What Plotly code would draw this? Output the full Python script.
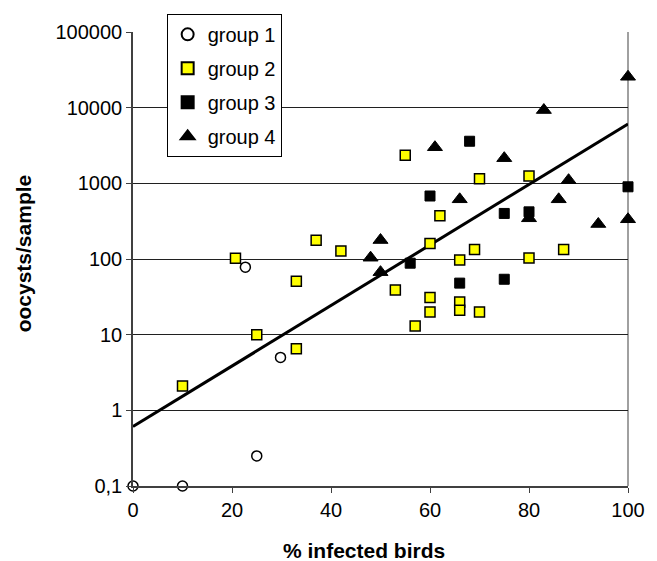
import plotly.graph_objects as go

# % infected birds (x) and oocysts per sample (y) for each group
g1_x = [0, 10, 22.7, 25, 29.8]
g1_y = [0.1, 0.1, 78, 0.25, 5]

g2_x = [10, 20.7, 25, 33, 33, 37, 42, 53, 55, 57, 60, 60, 60, 62, 66, 66, 66,
        69, 70, 70, 80, 80, 87]
g2_y = [2.1, 102, 10, 51, 6.5, 177, 128, 39, 2350, 13, 160, 31, 20, 373, 97, 27, 21,
        134, 1150, 20, 1250, 103, 134]

g3_x = [56, 60, 66, 68, 75, 75, 80, 100]
g3_y = [88, 680, 48, 3600, 400, 54, 420, 900]

g4_x = [48, 50, 50, 61, 66, 75, 80, 83, 86, 88, 94, 100, 100]
g4_y = [104, 178, 67, 3000, 615, 2150, 345, 9300, 615, 1100, 290, 25600, 335]

# exponential trend line endpoints
trend_x = [0, 100]
trend_y = [0.61, 6100]

y_ticks = [0.1, 1, 10, 100, 1000, 10000, 100000]
y_ticktext = ["0,1", "1", "10", "100", "1000", "10000", "100000"]
x_ticks = [0, 20, 40, 60, 80, 100]

FONT = "Liberation Sans, Arial, sans-serif"

fig = go.Figure()

fig.add_trace(go.Scatter(
    x=trend_x, y=trend_y, mode="lines", showlegend=False,
    line=dict(color="black", width=3), hoverinfo="skip"))

fig.add_trace(go.Scatter(
    x=g1_x, y=g1_y, mode="markers", name="group 1", legendgroup="g1",
    marker=dict(symbol="circle", size=10, color="white",
                line=dict(color="black", width=1.5)), cliponaxis=False))
fig.add_trace(go.Scatter(
    x=g2_x, y=g2_y, mode="markers", name="group 2", legendgroup="g2",
    marker=dict(symbol="square", size=10, color="#FFFF00",
                line=dict(color="black", width=1.5)), cliponaxis=False))
fig.add_trace(go.Scatter(
    x=g3_x, y=g3_y, mode="markers", name="group 3", legendgroup="g3",
    marker=dict(symbol="square", size=10, color="black",
                line=dict(color="black", width=1)), cliponaxis=False))
fig.add_trace(go.Scatter(
    x=g4_x, y=g4_y, mode="markers", name="group 4", legendgroup="g4",
    marker=dict(symbol="triangle-up", size=13, color="black",
                line=dict(color="black", width=1)), cliponaxis=False))

fig.update_layout(
    width=657, height=561,
    margin=dict(l=133, r=23, t=32, b=75),
    paper_bgcolor="white", plot_bgcolor="white",
    font=dict(family=FONT, size=20, color="black"),
    showlegend=True,
    legend=dict(
        x=0.068, y=1.04, xanchor="left", yanchor="top",
        bgcolor="white", bordercolor="black", borderwidth=1,
        font=dict(family=FONT, size=20),
        traceorder="grouped", tracegroupgap=5,
        itemsizing="constant", itemwidth=30),
    xaxis=dict(
        range=[0, 100], tickvals=x_ticks, ticks="outside", ticklen=5,
        tickcolor="#404040", showline=True, linecolor="#404040", linewidth=1.5,
        showgrid=False, zeroline=False, tickfont=dict(size=20, family=FONT)),
    yaxis=dict(
        type="log", range=[-1, 5], tickvals=y_ticks, ticktext=y_ticktext,
        ticks="outside", ticklen=5, tickcolor="#404040",
        showline=True, linecolor="#404040", linewidth=1.5,
        showgrid=True, gridcolor="#202020", gridwidth=1,
        zeroline=False, tickfont=dict(size=20, family=FONT)),
    shapes=[dict(type="line", xref="paper", yref="paper", x0=1, x1=1, y0=0, y1=1,
                 line=dict(color="#808080", width=1.5), layer="below")],
    annotations=[
        dict(text="<b>% infected birds</b>", xref="paper", yref="paper",
             x=(367 - 133) / 501, y=-(550 - 486) / 454, xanchor="center",
             yanchor="middle", showarrow=False, font=dict(size=21, family=FONT)),
        dict(text="<b>oocysts/sample</b>", xref="paper", yref="paper",
             x=-(133 - 22) / 501, y=(486 - 253) / 454, xanchor="center",
             yanchor="middle", textangle=-90, showarrow=False,
             font=dict(size=21, family=FONT)),
    ],
)

fig.write_html("out.html")
